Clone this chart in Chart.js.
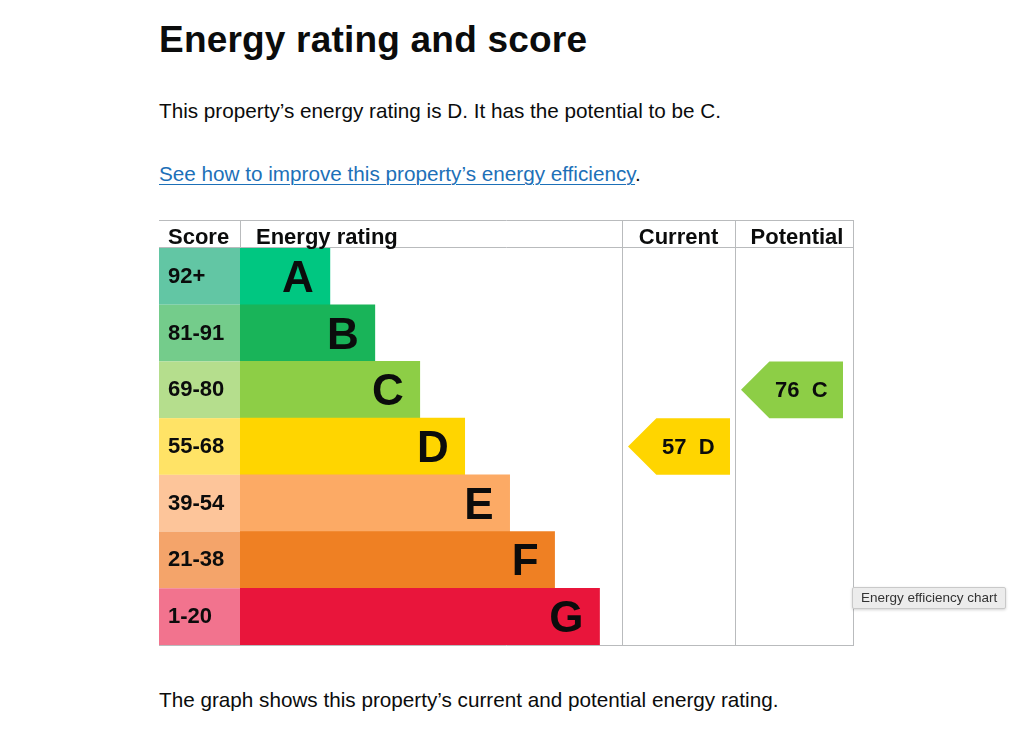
<!DOCTYPE html>
<html lang="en">
<head>
<meta charset="utf-8">
<title>Energy rating and score</title>
<script src="https://cdn.jsdelivr.net/npm/chart.js@4.4.1/dist/chart.umd.min.js"></script>
<style>
  body { margin: 0; background: #fff; color: #0b0c0c; font-family: "Liberation Sans", Arial, sans-serif; }
  .line { position: absolute; left: 159px; white-space: nowrap; line-height: 1; margin: 0; }
  h1.line { top: 21px; font-size: 37px; font-weight: bold; letter-spacing: 0.2px; }
  p.line { font-size: 20.7px; }
  a { color: #1d70b8; text-decoration: underline; text-decoration-thickness: 1px; text-underline-offset: 3px; }
  #chartBox { position: absolute; left: 159px; top: 220px; width: 695px; height: 426px; }
  #tip {
    position: absolute; left: 852px; top: 587px; height: 20px; padding: 0 8px;
    background: #ececec; border: 1px solid #c9c9c9; border-radius: 2px;
    font: 13.5px "Liberation Sans", Arial, sans-serif; line-height: 20px; color: #333;
    box-shadow: 0 1px 3px rgba(0,0,0,0.18); white-space: nowrap;
  }
</style>
</head>
<body>
<h1 class="line">Energy rating and score</h1>
<p class="line" style="top:101px">This property’s energy rating is D. It has the potential to be C.</p>
<p class="line" style="top:164px"><a href="#">See how to improve this property’s energy efficiency</a>.</p>
<div id="chartBox"><canvas id="epc" width="695" height="426" style="width:695px;height:426px" title="Energy efficiency chart"></canvas></div>
<p class="line" style="top:690px">The graph shows this property’s current and potential energy rating.</p>
<div id="tip">Energy efficiency chart</div>

<script>
// bands, top (best) to bottom
const bands = ["A", "B", "C", "D", "E", "F", "G"];
const scoreRanges = ["92+", "81-91", "69-80", "55-68", "39-54", "21-38", "1-20"];
const bandMinScores = [92, 81, 69, 55, 39, 21, 1];
const barLengths = [2, 3, 4, 5, 6, 7, 8];
const columnHeaders = ["Score", "Energy rating", "Current", "Potential"];
const currentScore = 57;
const potentialScore = 76;

const bandColours = ["#00c781", "#19b459", "#8dce46", "#ffd500", "#fcaa65", "#ef8023", "#e9153b"];
const scoreColours = ["#62c6a4", "#74cc8b", "#b5de8d", "#ffe366", "#fdc59a", "#f4a46a", "#f2738e"];
const gridColour = "#b9bbbd";
const textColour = "#0b0c0c";
const FONT = '"Liberation Sans", Arial, sans-serif';

// column widths outside the rating plot area
const SCORE_COL = 81;
const CURRENT_COL = 113;
const POTENTIAL_COL = 118;
const HEADER_H = 28;

function bandFor(score) {
  return bandMinScores.findIndex(min => score >= min);
}

function rowBounds(chart, i) {
  const y = chart.scales.y;
  const half = (chart.chartArea.bottom - chart.chartArea.top) / bands.length / 2;
  const c = y.getPixelForValue(i);
  return { top: c - half, bottom: c + half, mid: c };
}

function drawArrow(ctx, left, row, score, i) {
  const h = row.bottom - row.top;
  const point = h / 2;
  const right = left + 102;
  ctx.fillStyle = bandColours[i];
  ctx.beginPath();
  ctx.moveTo(left, row.mid);
  ctx.lineTo(left + point, row.top);
  ctx.lineTo(right, row.top);
  ctx.lineTo(right, row.bottom);
  ctx.lineTo(left + point, row.bottom);
  ctx.closePath();
  ctx.fill();
  ctx.fillStyle = textColour;
  ctx.font = "bold 22px " + FONT;
  ctx.textAlign = "left";
  ctx.textBaseline = "alphabetic";
  ctx.fillText(score + "  " + bands[i], left + 34, row.mid + 7.5);
}

const epcTable = {
  id: "epcTable",
  beforeDatasetsDraw(chart) {
    const ctx = chart.ctx;
    const area = chart.chartArea;
    ctx.save();
    // score cells
    bands.forEach((b, i) => {
      const r = rowBounds(chart, i);
      ctx.fillStyle = scoreColours[i];
      ctx.fillRect(area.left - SCORE_COL, r.top, SCORE_COL, r.bottom - r.top);
    });
    // grid
    const x0 = area.left - SCORE_COL;
    const xCur = area.right;
    const xPot = xCur + CURRENT_COL;
    const xEnd = xPot + POTENTIAL_COL;
    ctx.strokeStyle = gridColour;
    ctx.lineWidth = 1;
    ctx.beginPath();
    ctx.moveTo(x0, 0.5); ctx.lineTo(xEnd + 1, 0.5);
    ctx.moveTo(x0, HEADER_H - 0.5); ctx.lineTo(xEnd + 1, HEADER_H - 0.5);
    ctx.moveTo(x0, area.bottom + 0.5); ctx.lineTo(xEnd + 1, area.bottom + 0.5);
    ctx.moveTo(area.left + 0.5, 0); ctx.lineTo(area.left + 0.5, HEADER_H);
    [xCur, xPot, xEnd].forEach(x => {
      ctx.moveTo(x + 0.5, 0); ctx.lineTo(x + 0.5, area.bottom + 1);
    });
    ctx.stroke();
    ctx.restore();
  },
  afterDatasetsDraw(chart) {
    const ctx = chart.ctx;
    const area = chart.chartArea;
    const meta = chart.getDatasetMeta(0);
    ctx.save();
    ctx.fillStyle = textColour;
    ctx.textBaseline = "alphabetic";

    // headers
    ctx.font = "bold 22px " + FONT;
    ctx.textAlign = "left";
    ctx.fillText(columnHeaders[0], area.left - SCORE_COL + 9, 24);
    ctx.fillText(columnHeaders[1], area.left + 16, 24);
    ctx.textAlign = "center";
    ctx.fillText(columnHeaders[2], area.right + CURRENT_COL / 2, 24);
    ctx.fillText(columnHeaders[3], area.right + CURRENT_COL + POTENTIAL_COL / 2 + 3, 24);

    // score ranges
    ctx.textAlign = "left";
    ctx.font = "bold 22px " + FONT;
    bands.forEach((b, i) => {
      const r = rowBounds(chart, i);
      ctx.fillText(scoreRanges[i], area.left - SCORE_COL + 9, r.mid + 6.5);
    });

    // band letters on bars
    ctx.font = "bold 44px " + FONT;
    ctx.textAlign = "right";
    meta.data.forEach((bar, i) => {
      ctx.fillText(bands[i], bar.x - 16, bar.y + 15.5);
    });

    // current and potential arrows
    const ci = bandFor(currentScore);
    const pi = bandFor(potentialScore);
    drawArrow(ctx, area.right + 6, rowBounds(chart, ci), currentScore, ci);
    drawArrow(ctx, area.right + CURRENT_COL + 6, rowBounds(chart, pi), potentialScore, pi);
    ctx.restore();
  }
};

new Chart(document.getElementById("epc"), {
  type: "bar",
  data: {
    labels: bands,
    datasets: [{
      data: barLengths,
      backgroundColor: bandColours,
      borderWidth: 0,
      categoryPercentage: 1,
      barPercentage: 1
    }]
  },
  options: {
    indexAxis: "y",
    responsive: false,
    animation: false,
    layout: { padding: { left: SCORE_COL, right: CURRENT_COL + POTENTIAL_COL + 1, top: HEADER_H, bottom: 1 } },
    scales: {
      x: { min: 0, max: 8.5, display: false },
      y: { display: false, offset: true }
    },
    plugins: { legend: { display: false }, tooltip: { enabled: false } }
  },
  plugins: [epcTable]
});
</script>
</body>
</html>
